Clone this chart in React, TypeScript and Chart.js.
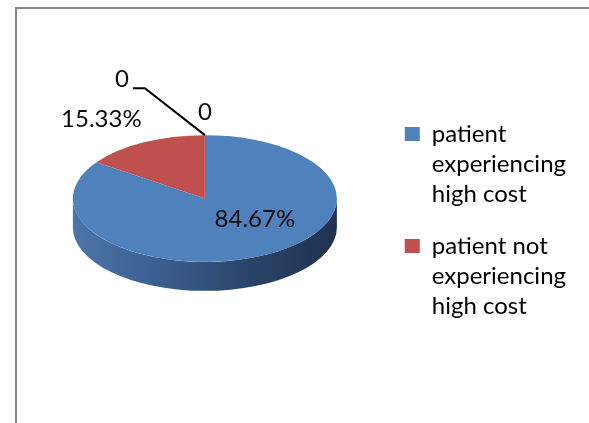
import React, { useEffect, useRef } from 'react';
import { Chart, registerables } from 'chart.js';

Chart.register(...registerables);

// Slices of the pie (the two trailing zero points only carry their "0" data labels)
const categories = ['patient experiencing high cost', 'patient not experiencing high cost', '', ''];
const shares = [84.67, 15.33, 0, 0];

const sliceColors = ['#4f81bd', '#c0504d', '#9bbb59', '#8064a2'];
// shading of the cylinder wall, lit from the left
const wallShades = [
  ['#4d75aa', '#3a5e8e', '#2a4469', '#1f3250'],
  ['#b04a47', '#923c39', '#712e2c', '#5c2523'],
  ['#8fae52', '#779243', '#5c7134', '#4b5d2a'],
  ['#755c96', '#614c7d', '#4b3a60', '#3d304f'],
];

const FONT = 'Lato, "Open Sans", sans-serif';
const TEXT_COLOR = '#0a0a0a';
const LEGEND_FONT_SIZE = 24;
const LEGEND_BOX = 15;
const LEGEND_GAP = 22;
const LEGEND_LEFT = 382; // left edge of the legend block
const TILT = 0.48; // vertical squash of the pie disc
const DEPTH = 29; // thickness of the disc

const formatShare = (v: number) => (v > 0 ? `${v.toFixed(2)}%` : '0');

function wrapWords(ctx: CanvasRenderingContext2D, text: string, maxWidth: number): string[] {
  const words = text.split(' ');
  const lines: string[] = [];
  let line = '';
  for (const w of words) {
    const test = line ? `${line} ${w}` : w;
    if (line && ctx.measureText(test).width > maxWidth) {
      lines.push(line);
      line = w;
    } else {
      line = test;
    }
  }
  if (line) lines.push(line);
  return lines;
}

const pie3d = {
  id: 'pie3d',
  beforeDatasetsDraw(chart: any) {
    const ctx: CanvasRenderingContext2D = chart.ctx;
    const arcs = chart.getDatasetMeta(0).data as any[];
    chart.$pieSaved = false;
    if (!arcs.length) return;
    const { x: cx, y: cy, outerRadius: R } = arcs[0];
    const ry = R * TILT;

    // front wall of the disc: the part of each slice facing the viewer (angles 0..π)
    arcs.forEach((arc, i) => {
      const s = arc.startAngle;
      const e = arc.endAngle;
      if (e - s <= 0) return;
      for (const base of [-2 * Math.PI, 0, 2 * Math.PI]) {
        const a0 = Math.max(s, base);
        const a1 = Math.min(e, base + Math.PI);
        if (a1 <= a0) continue;
        const shades = wallShades[i % wallShades.length];
        const g = ctx.createLinearGradient(cx - R, 0, cx + R, 0);
        shades.forEach((c, j) => g.addColorStop(j / (shades.length - 1), c));
        ctx.beginPath();
        ctx.ellipse(cx, cy, R, ry, 0, a0 - base, a1 - base, false);
        ctx.ellipse(cx, cy + DEPTH, R, ry, 0, a1 - base, a0 - base, true);
        ctx.closePath();
        ctx.fillStyle = g;
        ctx.fill();
      }
    });

    // top face: the library's arcs drawn through a tilted projection
    ctx.save();
    ctx.translate(cx, cy);
    ctx.scale(1, TILT);
    ctx.translate(-cx, -cy);
    chart.$pieSaved = true;
  },
  afterDatasetsDraw(chart: any) {
    const ctx: CanvasRenderingContext2D = chart.ctx;
    if (!chart.$pieSaved) return;
    ctx.restore();
    chart.$pieSaved = false;

    const arcs = chart.getDatasetMeta(0).data as any[];
    const { x: cx, y: cy, outerRadius: R } = arcs[0];
    const topY = cy - R * TILT;
    const values = chart.data.datasets[0].data as number[];

    // label anchors (text centre x, baseline y) around the disc
    const anchors: [number, number][] = [
      [cx + 50, cy + 28.5],
      [cx - 103.5, cy - 71.5],
      [cx, topY - 15],
      [cx - 83, topY - 48],
    ];

    ctx.save();
    // leader line for the last data label
    ctx.strokeStyle = '#000';
    ctx.lineWidth = 2;
    ctx.beginPath();
    ctx.moveTo(cx, topY);
    ctx.lineTo(cx - 60, topY - 47);
    ctx.lineTo(cx - 72, topY - 47);
    ctx.stroke();

    ctx.font = `24px ${FONT}`;
    ctx.fillStyle = TEXT_COLOR;
    ctx.textAlign = 'center';
    ctx.textBaseline = 'alphabetic';
    values.forEach((v, i) => {
      const [lx, ly] = anchors[i];
      ctx.fillText(formatShare(v), lx, ly);
    });
    ctx.restore();
  },
};

export default function App() {
  const canvasRef = useRef<HTMLCanvasElement | null>(null);

  useEffect(() => {
    const canvas = canvasRef.current;
    if (!canvas) return;
    Chart.defaults.font.family = FONT;

    // wrap the category names and size the legend block so it starts at LEGEND_LEFT
    const measure = document.createElement('canvas').getContext('2d') as CanvasRenderingContext2D;
    measure.font = `${LEGEND_FONT_SIZE}px ${FONT}`;
    const wrapped = categories.map((name) => (name ? wrapWords(measure, name, 150) : []));
    const longest = wrapped.flat().reduce((a, b) => (a.length > b.length ? a : b), '');
    const legendWidth =
      LEGEND_GAP + LEGEND_BOX + LEGEND_FONT_SIZE / 2 + measure.measureText(longest).width + 10;
    const rightPad = Math.max(0, Math.floor(canvas.width - LEGEND_LEFT - legendWidth));

    const chart = new Chart(canvas, {
      type: 'pie',
      data: {
        labels: categories,
        datasets: [
          {
            data: shares,
            backgroundColor: sliceColors,
            borderWidth: 0,
          },
        ],
      },
      options: {
        responsive: false,
        animation: false,
        events: [],
        radius: 132,
        layout: {
          padding: {
            left: 2 * 204.5 - (canvas.width - rightPad - Math.ceil(legendWidth)),
            right: rightPad,
            top: 51,
            bottom: 77,
          },
        },
        plugins: {
          tooltip: { enabled: false },
          legend: {
            position: 'right',
            align: 'end',
            labels: {
              boxWidth: LEGEND_BOX,
              boxHeight: 14,
              padding: LEGEND_GAP,
              color: TEXT_COLOR,
              font: { size: LEGEND_FONT_SIZE, lineHeight: '30px', family: FONT },
              generateLabels: (c: any) =>
                (c.data.labels as string[])
                  .map((name, i) => ({ name, i }))
                  .filter(({ name }) => name)
                  .map(({ i }) => ({
                    text: wrapped[i],
                    fillStyle: sliceColors[i],
                    strokeStyle: sliceColors[i],
                    lineWidth: 0,
                    hidden: false,
                    index: i,
                  })),
            },
          },
        },
      } as any,
      plugins: [pie3d],
    });

    return () => chart.destroy();
  }, []);

  return (
    <div
      style={{
        position: 'fixed',
        left: 0,
        top: 0,
        width: 589,
        height: 423,
        overflow: 'hidden',
        background: '#fff',
      }}
    >
      <div
        style={{
          position: 'absolute',
          left: 15,
          top: 7,
          width: 640,
          height: 480,
          borderLeft: '2px solid #858585',
          borderTop: '2px solid #858585',
        }}
      />
      <canvas
        ref={canvasRef}
        width={589}
        height={423}
        style={{ position: 'absolute', left: 0, top: 0, display: 'block' }}
      />
    </div>
  );
}
